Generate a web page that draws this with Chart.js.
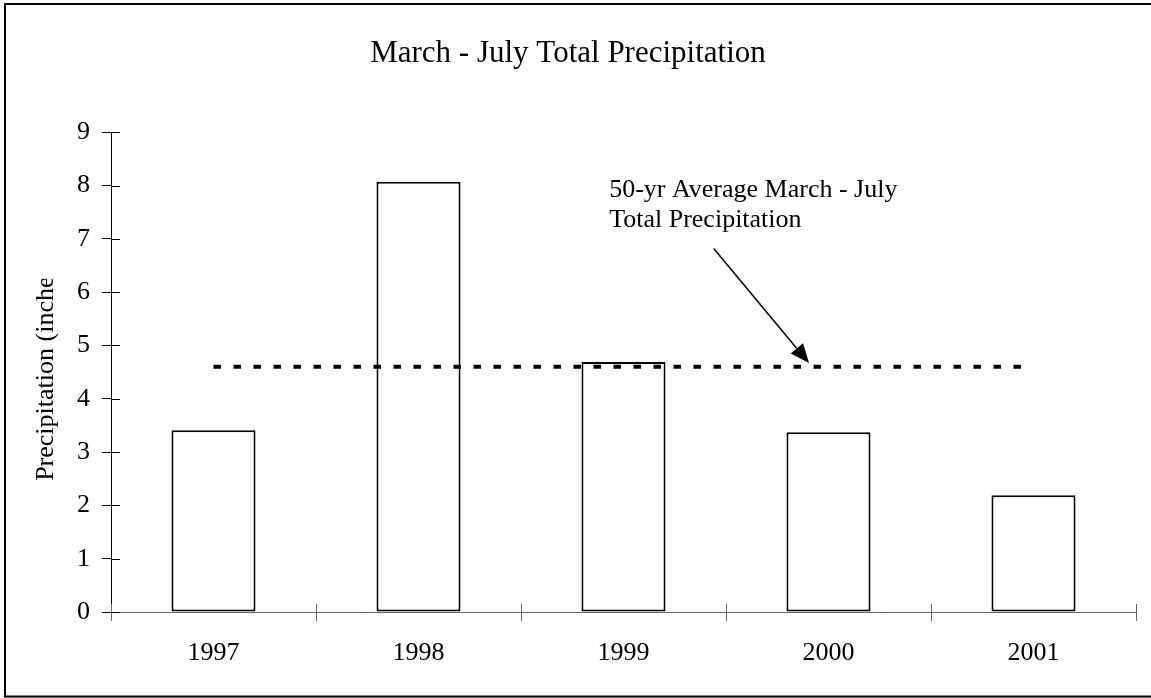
<!DOCTYPE html>
<html>
<head>
<meta charset="utf-8">
<script src="https://cdn.jsdelivr.net/npm/chart.js@4.4.1/dist/chart.umd.min.js"></script>
<style>
  body{margin:0;background:#fff;}
  #wrap{width:1151px;height:698px;position:relative;}
</style>
</head>
<body>
<div id="wrap"><canvas id="precipChart"></canvas></div>
<script>
const years = ['1997','1998','1999','2000','2001'];
const precip = [3.41, 8.07, 4.69, 3.37, 2.19];
const avg50 = [4.6, 4.6, 4.6, 4.6, 4.6];
const yMin = 0, yMax = 9, yStep = 1;

const titleText = 'March - July Total Precipitation';
const yTitle = 'Precipitation (inches)';
const noteLines = ['50-yr Average March - July', 'Total Precipitation'];

const serif = '"Liberation Serif", "Times New Roman", serif';

// inward half of the "cross" tick marks, the frame, the y title and the note
const extras = {
  id:'extras',
  afterDraw(chart){
    const c = chart.ctx;
    const x = chart.scales.x, y = chart.scales.y;
    c.save();

    // inside tick marks
    c.lineWidth = 1;
    c.strokeStyle = '#000';
    c.beginPath();
    for(let v = yMin; v <= yMax; v += yStep){
      const py = Math.round(y.getPixelForValue(v)) + 0.5;
      c.moveTo(x.left, py);
      c.lineTo(x.left + 9, py);
    }
    c.stroke();
    c.strokeStyle = '#666';
    c.beginPath();
    for(let i = 0; i <= years.length; i++){
      const px = Math.round(x.getPixelForValue(i - 0.5)) + 0.5;
      c.moveTo(px, y.bottom);
      c.lineTo(px, y.bottom - 8);
    }
    c.stroke();

    // frame
    c.strokeStyle = '#000';
    c.lineWidth = 2;
    c.strokeRect(5, 4, 1200, 692.5);

    // y axis title, cut off like the original
    c.save();
    c.beginPath();
    c.rect(0, y.getPixelForValue(6.25), 100, 600);
    c.clip();
    c.translate(46, y.getPixelForValue(2.46));
    c.rotate(-Math.PI/2);
    c.font = '26px ' + serif;
    c.fillStyle = '#000';
    c.textAlign = 'left';
    c.textBaseline = 'middle';
    c.fillText(yTitle, 0, 0);
    c.restore();

    // note text
    c.font = '26px ' + serif;
    c.fillStyle = '#000';
    c.textAlign = 'left';
    c.textBaseline = 'alphabetic';
    c.fillText(noteLines[0], x.getPixelForValue(1.93), y.getPixelForValue(7.78));
    c.fillText(noteLines[1], x.getPixelForValue(1.93), y.getPixelForValue(7.22));

    // arrow
    const x0 = x.getPixelForValue(2.44), y0 = y.getPixelForValue(6.82);
    const x1 = x.getPixelForValue(2.905), y1 = y.getPixelForValue(4.67);
    const ang = Math.atan2(y1 - y0, x1 - x0);
    const len = 19, half = 8;
    c.strokeStyle = '#000';
    c.lineWidth = 1.5;
    c.beginPath();
    c.moveTo(x0, y0);
    c.lineTo(x1 - len*Math.cos(ang), y1 - len*Math.sin(ang));
    c.stroke();
    c.beginPath();
    c.moveTo(x1, y1);
    c.lineTo(x1 - len*Math.cos(ang) + half*Math.sin(ang), y1 - len*Math.sin(ang) - half*Math.cos(ang));
    c.lineTo(x1 - len*Math.cos(ang) - half*Math.sin(ang), y1 - len*Math.sin(ang) + half*Math.cos(ang));
    c.closePath();
    c.fill();

    c.restore();
  }
};

new Chart(document.getElementById('precipChart'), {
  type:'bar',
  data:{
    labels:years,
    datasets:[
      {
        type:'line',
        label:'50-yr average',
        data:avg50,
        borderColor:'#000',
        borderWidth:4,
        borderDash:[7.5,12.5],
        borderCapStyle:'butt',
        pointRadius:0,
        fill:false,
        order:0
      },
      {
        label:'Precipitation',
        data:precip,
        backgroundColor:'#fff',
        borderColor:'#000',
        borderWidth:2,
        borderSkipped:false,
        barPercentage:0.41,
        categoryPercentage:1,
        order:1
      }
    ]
  },
  options:{
    responsive:true,
    maintainAspectRatio:false,
    animation:false,
    layout:{padding:{left:0,right:15,top:0,bottom:0}},
    plugins:{
      legend:{display:false},
      tooltip:{enabled:false},
      title:{
        display:true,
        text:titleText,
        color:'#000',
        font:{family:serif,size:31,weight:'normal'},
        padding:{top:35,bottom:60}
      }
    },
    scales:{
      x:{
        grid:{offset:true,drawOnChartArea:false,tickLength:9,color:'#666'},
        border:{color:'#666',width:1},
        ticks:{color:'#000',font:{family:serif,size:26},padding:17,maxRotation:0},
        afterFit(s){ s.height = 86; }
      },
      y:{
        min:yMin,
        max:yMax,
        ticks:{stepSize:yStep,color:'#000',font:{family:serif,size:26},padding:12},
        grid:{drawOnChartArea:false,tickLength:9,color:'#000'},
        border:{color:'#000',width:1},
        afterFit(s){ s.width = 111; }
      }
    }
  },
  plugins:[extras]
});
</script>
</body>
</html>
